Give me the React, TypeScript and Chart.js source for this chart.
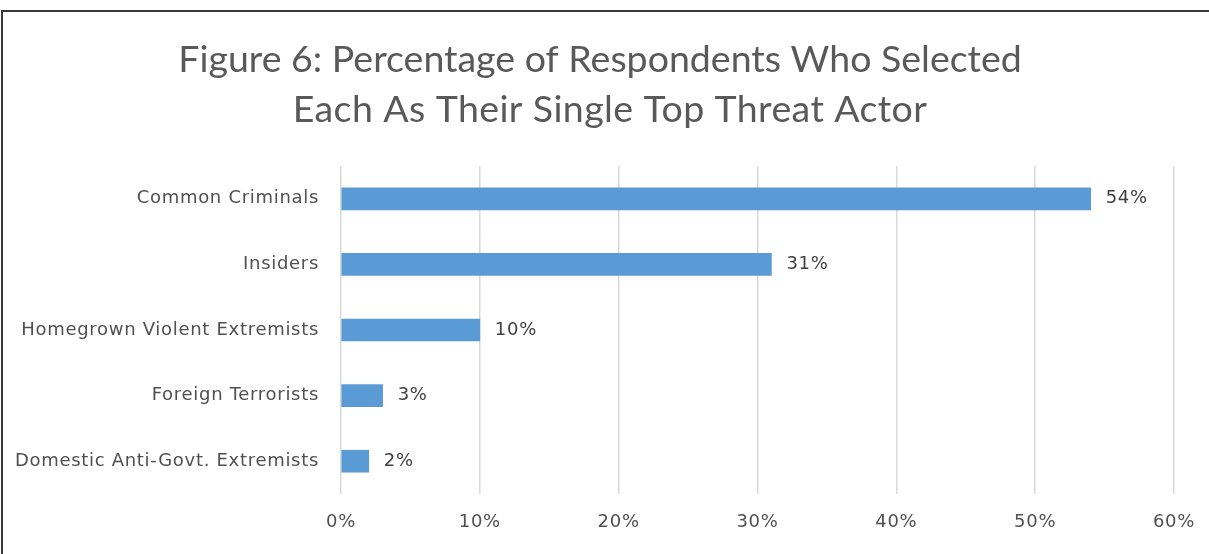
import React, { useEffect, useRef } from "react";
import { Chart, registerables } from "chart.js";

Chart.register(...registerables);

const titleLines = [
  "Figure 6: Percentage of Respondents Who Selected",
  "Each As Their Single Top Threat Actor",
];
const categories = [
  "Common Criminals",
  "Insiders",
  "Homegrown Violent Extremists",
  "Foreign Terrorists",
  "Domestic Anti-Govt. Extremists",
];
const values = [54, 31, 10, 3, 2];
const xTickValues = [0, 10, 20, 30, 40, 50, 60];

const TITLE_FONT = "Lato, 'Open Sans', sans-serif";
const LABEL_FONT = "'DejaVu Sans', sans-serif";

function setSpacing(ctx: any, px: number) {
  if ("letterSpacing" in ctx) ctx.letterSpacing = px + "px";
}

const textPlugin = {
  id: "customText",
  afterDatasetsDraw(chart: any) {
    const ctx = chart.ctx;
    const xs = chart.scales.x;
    const ys = chart.scales.y;
    ctx.save();
    // Title
    ctx.font = `37.5px ${TITLE_FONT}`;
    ctx.fillStyle = "#595959";
    ctx.textAlign = "center";
    ctx.textBaseline = "middle";
    setSpacing(ctx, 0);
    ctx.fillText(titleLines[0], 600, 60);
    setSpacing(ctx, 0.4);
    ctx.fillText(titleLines[1], 610, 110);

    ctx.font = `18px ${LABEL_FONT}`;
    setSpacing(ctx, 0.7);
    ctx.textAlign = "left";
    // Category labels (right aligned)
    ctx.fillStyle = "#505050";
    categories.forEach((c, i) => {
      const y = ys.getPixelForValue(i);
      const w = ctx.measureText(c).width;
      ctx.fillText(c, chart.chartArea.left - 22 - w, y);
    });
    // X tick labels (centered)
    xTickValues.forEach((v) => {
      const t = v + "%";
      const x = xs.getPixelForValue(v);
      const w = ctx.measureText(t).width;
      ctx.fillText(t, x - w / 2, 522);
    });
    // Data labels
    ctx.fillStyle = "#404040";
    const meta = chart.getDatasetMeta(0);
    meta.data.forEach((bar: any, i: number) => {
      ctx.fillText(values[i] + "%", bar.x + 15, bar.y);
    });
    ctx.restore();
  },
};

export default function App() {
  const ref = useRef<HTMLCanvasElement>(null);
  useEffect(() => {
    document.body.style.margin = "0";
    const chart = new Chart(ref.current!, {
      type: "bar",
      data: {
        labels: categories,
        datasets: [
          {
            data: values,
            backgroundColor: "#5b9bd5",
            barThickness: 22,
          },
        ],
      },
      options: {
        indexAxis: "y",
        animation: false,
        responsive: false,
        layout: { padding: { top: 166, left: 0, right: 35, bottom: 0 } },
        plugins: {
          legend: { display: false },
          tooltip: { enabled: false },
          title: { display: false },
        },
        scales: {
          x: {
            min: 0,
            max: 60,
            afterBuildTicks(scale: any) {
              scale.ticks = xTickValues.map((v) => ({ value: v }));
            },
            afterFit(scale: any) {
              scale.height = 60;
            },
            grid: { color: "#d9d9d9", lineWidth: 1.5, drawTicks: false },
            border: { display: false },
            ticks: { display: false },
          },
          y: {
            afterFit(scale: any) {
              scale.width = 341;
            },
            grid: { display: false, drawTicks: false },
            border: { display: false },
            ticks: { display: false },
          },
        },
      },
      plugins: [textPlugin],
    });
    return () => chart.destroy();
  }, []);
  return (
    <div style={{ position: "relative", width: 1209, height: 554, overflow: "hidden", background: "#fff" }}>
      <canvas ref={ref} width={1209} height={554} style={{ display: "block" }} />
      <div
        style={{
          position: "absolute",
          left: 1,
          top: 10,
          width: 1220,
          height: 560,
          borderTop: "2px solid #3a3a3a",
          borderLeft: "2px solid #3a3a3a",
          pointerEvents: "none",
        }}
      />
    </div>
  );
}
